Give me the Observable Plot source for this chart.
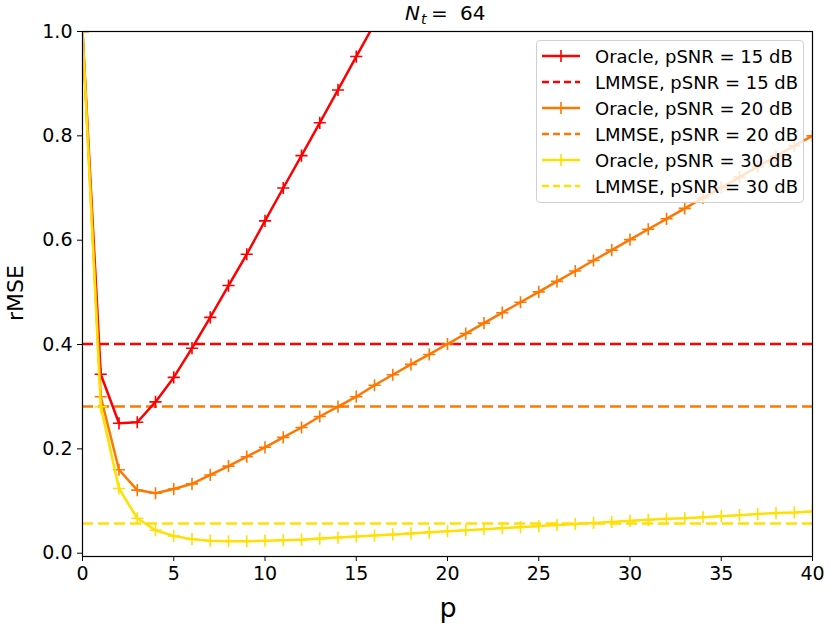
<!DOCTYPE html>
<html>
<head>
<meta charset="utf-8">
<script src="https://cdn.jsdelivr.net/npm/d3@7"></script>
<script src="https://cdn.jsdelivr.net/npm/@observablehq/plot@0.6"></script>
<style>
  body { margin: 0; background: #fff; font-family: "DejaVu Sans", sans-serif; }
  #wrap { position: relative; width: 830px; height: 627px; }
  #legend { position: absolute; left: 536px; top: 40px; width: 268px; height: 163px; border: 1px solid #d0d0d0; border-radius: 4px; background: rgba(255,255,255,0.8); box-sizing: border-box; }
  .row { position: absolute; left: 0; height: 26px; display: flex; align-items: center; font-size: 18px; white-space: nowrap; }
  .row svg { margin-left: 5px; margin-right: 13px; }
</style>
</head>
<body>
<div id="wrap">
  <div id="chart"></div>
  <div id="legend"></div>
</div>
<script>
const p = d3.range(0, 41);
const oracle15 = [1.0, 0.343, 0.249, 0.251, 0.290, 0.337, 0.393, 0.452, 0.513, 0.573, 0.637, 0.700, 0.762, 0.825, 0.888, 0.952, 1.015, 1.078];
const oracle20 = [1.0, 0.300, 0.160, 0.121, 0.115, 0.123, 0.133, 0.150, 0.167, 0.185, 0.203, 0.222, 0.241, 0.262, 0.281, 0.300, 0.322, 0.342, 0.362, 0.381, 0.401, 0.421, 0.441, 0.461, 0.481, 0.501, 0.521, 0.541, 0.561, 0.581, 0.601, 0.621, 0.641, 0.661, 0.681, 0.701, 0.721, 0.741, 0.761, 0.781, 0.800];
const oracle30 = [1.0, 0.281, 0.124, 0.067, 0.044, 0.033, 0.027, 0.024, 0.023, 0.023, 0.024, 0.025, 0.026, 0.028, 0.030, 0.032, 0.034, 0.036, 0.038, 0.040, 0.042, 0.044, 0.046, 0.048, 0.050, 0.052, 0.054, 0.056, 0.058, 0.060, 0.062, 0.064, 0.066, 0.067, 0.069, 0.071, 0.073, 0.075, 0.077, 0.078, 0.080];
const lmmse = [0.401, 0.281, 0.057];
const snrLabels = ["15", "20", "30"];
const colors = ["#ff0000", "#ff7700", "#ffe000"];
const xTicks = [0, 5, 10, 15, 20, 25, 30, 35, 40];
const yTicks = [0.0, 0.2, 0.4, 0.6, 0.8, 1.0];

const oracles = [oracle15, oracle20, oracle30];
const series = oracles.map((vals, i) => vals.map((v, j) => ({p: p[j], v, s: i})));

const marks = [];
lmmse.forEach((v, i) => {
  marks.push(Plot.ruleY([v], {stroke: colors[i], strokeWidth: 2.5, strokeDasharray: "11,5"}));
});
series.forEach((d, i) => {
  marks.push(Plot.line(d, {x: "p", y: "v", stroke: colors[i], strokeWidth: 2.5, clip: true}));
  marks.push(Plot.dot(d, {x: "p", y: "v", symbol: "plus", r: 4, stroke: colors[i], strokeWidth: 1.6, clip: true}));
});
marks.push(Plot.frame({stroke: "#000", strokeWidth: 1.2}));
marks.push(Plot.axisX({ticks: xTicks, tickSize: 5, tickPadding: 5, fontSize: 19, label: null, tickFormat: d => String(d)}));
marks.push(Plot.axisY({ticks: yTicks, tickSize: 5, tickPadding: 5, fontSize: 19, label: null, tickFormat: d => d.toFixed(1)}));

const chart = Plot.plot({
  width: 830,
  height: 627,
  marginLeft: 82,
  marginRight: 18,
  marginTop: 31,
  marginBottom: 71,
  style: {fontFamily: "DejaVu Sans, sans-serif", color: "#000", background: "#fff"},
  x: {domain: [0, 40]},
  y: {domain: [-0.0063, 1]},
  marks
});
document.getElementById("chart").appendChild(chart);

const svg = d3.select(chart);
const font = "DejaVu Sans, sans-serif";
svg.append("text").attr("x", 448).attr("y", 617).attr("text-anchor", "middle")
  .attr("font-size", 27).attr("font-family", font).attr("fill", "#000").text("p");
svg.append("text").attr("transform", "translate(23,293) rotate(-90)").attr("text-anchor", "middle")
  .attr("font-size", 22).attr("font-family", font).attr("fill", "#000").text("rMSE");
const title = svg.append("text").attr("y", 20).attr("text-anchor", "start")
  .attr("font-size", 20).attr("font-family", font).attr("fill", "#000");
title.append("tspan").attr("x", 405).attr("font-style", "italic").text("N");
title.append("tspan").attr("x", 421).attr("font-style", "italic").attr("font-size", 14).attr("dy", 4).text("t");
title.append("tspan").attr("x", 431).attr("dy", -4).text("=");
title.append("tspan").attr("x", 460).text("64");

const legend = document.getElementById("legend");
const items = [];
snrLabels.forEach((s, i) => {
  items.push({label: `Oracle, pSNR = ${s} dB`, color: colors[i], dashed: false});
  items.push({label: `LMMSE, pSNR = ${s} dB`, color: colors[i], dashed: true});
});
items.forEach((it, k) => {
  const row = document.createElement("div");
  row.className = "row";
  row.style.top = (2 + k * 26) + "px";
  const sw = d3.create("svg").attr("width", 40).attr("height", 16);
  sw.append("line").attr("x1", 0).attr("x2", 38).attr("y1", 8).attr("y2", 8)
    .attr("stroke", it.color).attr("stroke-width", 2.5)
    .attr("stroke-dasharray", it.dashed ? "7,4" : null);
  if (!it.dashed) {
    sw.append("path").attr("d", "M19,2V14M13,8H25").attr("stroke", it.color).attr("stroke-width", 1.6);
  }
  row.appendChild(sw.node());
  const t = document.createElement("span");
  t.textContent = it.label;
  row.appendChild(t);
  legend.appendChild(row);
});
</script>
</body>
</html>
